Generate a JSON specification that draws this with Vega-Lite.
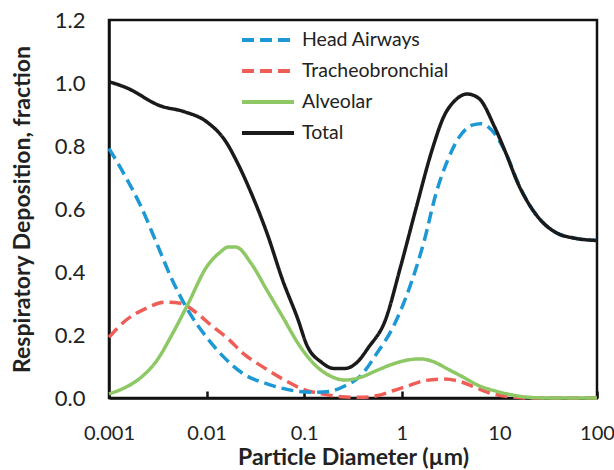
{
  "$schema": "https://vega.github.io/schema/vega-lite/v6.json",
  "width": 488,
  "height": 378,
  "autosize": {"type": "none"},
  "padding": {"left": 109, "top": 20, "right": 17, "bottom": 72},
  "background": "white",
  "config": {
    "font": "Lato",
    "view": {"stroke": "#111", "strokeWidth": 2.5},
    "axis": {"grid": false, "domainColor": "#111", "domainWidth": 2.5, "labelColor": "#222", "titleColor": "#222", "labelFont": "Lato", "titleFont": "Lato"}
  },
  "data": {"values": [
    {"s": "Total", "d": 0.001, "v": 1.004},
    {"s": "Total", "d": 0.00148, "v": 0.986},
    {"s": "Total", "d": 0.00339, "v": 0.927},
    {"s": "Total", "d": 0.00589, "v": 0.909},
    {"s": "Total", "d": 0.01, "v": 0.877},
    {"s": "Total", "d": 0.0158, "v": 0.813},
    {"s": "Total", "d": 0.0209, "v": 0.744},
    {"s": "Total", "d": 0.0288, "v": 0.649},
    {"s": "Total", "d": 0.0417, "v": 0.522},
    {"s": "Total", "d": 0.0603, "v": 0.373},
    {"s": "Total", "d": 0.0871, "v": 0.246},
    {"s": "Total", "d": 0.105, "v": 0.172},
    {"s": "Total", "d": 0.151, "v": 0.113},
    {"s": "Total", "d": 0.2, "v": 0.094},
    {"s": "Total", "d": 0.263, "v": 0.094},
    {"s": "Total", "d": 0.347, "v": 0.113},
    {"s": "Total", "d": 0.457, "v": 0.161},
    {"s": "Total", "d": 0.676, "v": 0.246},
    {"s": "Total", "d": 0.97, "v": 0.416},
    {"s": "Total", "d": 1.41, "v": 0.606},
    {"s": "Total", "d": 2.04, "v": 0.787},
    {"s": "Total", "d": 2.69, "v": 0.893},
    {"s": "Total", "d": 3.55, "v": 0.946},
    {"s": "Total", "d": 4.68, "v": 0.965},
    {"s": "Total", "d": 6.17, "v": 0.951},
    {"s": "Total", "d": 8.91, "v": 0.861},
    {"s": "Total", "d": 11.7, "v": 0.776},
    {"s": "Total", "d": 15.5, "v": 0.681},
    {"s": "Total", "d": 20.4, "v": 0.612},
    {"s": "Total", "d": 27.5, "v": 0.559},
    {"s": "Total", "d": 39.8, "v": 0.522},
    {"s": "Total", "d": 57.5, "v": 0.508},
    {"s": "Total", "d": 100, "v": 0.5},

    {"s": "Head Airways", "d": 0.001, "v": 0.792},
    {"s": "Head Airways", "d": 0.00148, "v": 0.702},
    {"s": "Head Airways", "d": 0.00214, "v": 0.606},
    {"s": "Head Airways", "d": 0.00309, "v": 0.49},
    {"s": "Head Airways", "d": 0.00447, "v": 0.373},
    {"s": "Head Airways", "d": 0.00646, "v": 0.278},
    {"s": "Head Airways", "d": 0.01, "v": 0.193},
    {"s": "Head Airways", "d": 0.0151, "v": 0.129},
    {"s": "Head Airways", "d": 0.024, "v": 0.076},
    {"s": "Head Airways", "d": 0.0417, "v": 0.045},
    {"s": "Head Airways", "d": 0.0724, "v": 0.025},
    {"s": "Head Airways", "d": 0.126, "v": 0.018},
    {"s": "Head Airways", "d": 0.182, "v": 0.021},
    {"s": "Head Airways", "d": 0.263, "v": 0.039},
    {"s": "Head Airways", "d": 0.38, "v": 0.071},
    {"s": "Head Airways", "d": 0.55, "v": 0.14},
    {"s": "Head Airways", "d": 0.813, "v": 0.225},
    {"s": "Head Airways", "d": 1.17, "v": 0.341},
    {"s": "Head Airways", "d": 1.7, "v": 0.5},
    {"s": "Head Airways", "d": 2.24, "v": 0.649},
    {"s": "Head Airways", "d": 2.95, "v": 0.755},
    {"s": "Head Airways", "d": 3.89, "v": 0.829},
    {"s": "Head Airways", "d": 5.25, "v": 0.866},
    {"s": "Head Airways", "d": 6.46, "v": 0.871},
    {"s": "Head Airways", "d": 8.91, "v": 0.84},
    {"s": "Head Airways", "d": 11.7, "v": 0.776},
    {"s": "Head Airways", "d": 15.5, "v": 0.684},
    {"s": "Head Airways", "d": 20.4, "v": 0.612},
    {"s": "Head Airways", "d": 27.5, "v": 0.559},
    {"s": "Head Airways", "d": 39.8, "v": 0.522},
    {"s": "Head Airways", "d": 57.5, "v": 0.508},
    {"s": "Head Airways", "d": 100, "v": 0.5},

    {"s": "Tracheobronchial", "d": 0.001, "v": 0.193},
    {"s": "Tracheobronchial", "d": 0.00148, "v": 0.246},
    {"s": "Tracheobronchial", "d": 0.00234, "v": 0.283},
    {"s": "Tracheobronchial", "d": 0.00372, "v": 0.304},
    {"s": "Tracheobronchial", "d": 0.00537, "v": 0.301},
    {"s": "Tracheobronchial", "d": 0.00776, "v": 0.272},
    {"s": "Tracheobronchial", "d": 0.0112, "v": 0.23},
    {"s": "Tracheobronchial", "d": 0.0166, "v": 0.188},
    {"s": "Tracheobronchial", "d": 0.024, "v": 0.14},
    {"s": "Tracheobronchial", "d": 0.038, "v": 0.098},
    {"s": "Tracheobronchial", "d": 0.0603, "v": 0.06},
    {"s": "Tracheobronchial", "d": 0.0955, "v": 0.029},
    {"s": "Tracheobronchial", "d": 0.151, "v": 0.013},
    {"s": "Tracheobronchial", "d": 0.24, "v": 0.004},
    {"s": "Tracheobronchial", "d": 0.38, "v": 0.002},
    {"s": "Tracheobronchial", "d": 0.55, "v": 0.007},
    {"s": "Tracheobronchial", "d": 0.813, "v": 0.023},
    {"s": "Tracheobronchial", "d": 1.17, "v": 0.039},
    {"s": "Tracheobronchial", "d": 1.7, "v": 0.055},
    {"s": "Tracheobronchial", "d": 2.69, "v": 0.06},
    {"s": "Tracheobronchial", "d": 3.89, "v": 0.053},
    {"s": "Tracheobronchial", "d": 5.62, "v": 0.034},
    {"s": "Tracheobronchial", "d": 8.13, "v": 0.015},
    {"s": "Tracheobronchial", "d": 12.9, "v": 0.004},
    {"s": "Tracheobronchial", "d": 20.4, "v": 0.0},
    {"s": "Tracheobronchial", "d": 100, "v": 0.0},

    {"s": "Alveolar", "d": 0.001, "v": 0.013},
    {"s": "Alveolar", "d": 0.00148, "v": 0.034},
    {"s": "Alveolar", "d": 0.00214, "v": 0.066},
    {"s": "Alveolar", "d": 0.00309, "v": 0.119},
    {"s": "Alveolar", "d": 0.00447, "v": 0.204},
    {"s": "Alveolar", "d": 0.00646, "v": 0.299},
    {"s": "Alveolar", "d": 0.01, "v": 0.416},
    {"s": "Alveolar", "d": 0.0138, "v": 0.463},
    {"s": "Alveolar", "d": 0.0166, "v": 0.479},
    {"s": "Alveolar", "d": 0.02, "v": 0.479},
    {"s": "Alveolar", "d": 0.0288, "v": 0.426},
    {"s": "Alveolar", "d": 0.0417, "v": 0.341},
    {"s": "Alveolar", "d": 0.0603, "v": 0.257},
    {"s": "Alveolar", "d": 0.0871, "v": 0.172},
    {"s": "Alveolar", "d": 0.126, "v": 0.108},
    {"s": "Alveolar", "d": 0.182, "v": 0.071},
    {"s": "Alveolar", "d": 0.263, "v": 0.057},
    {"s": "Alveolar", "d": 0.38, "v": 0.066},
    {"s": "Alveolar", "d": 0.55, "v": 0.087},
    {"s": "Alveolar", "d": 0.813, "v": 0.108},
    {"s": "Alveolar", "d": 1.17, "v": 0.121},
    {"s": "Alveolar", "d": 1.55, "v": 0.124},
    {"s": "Alveolar", "d": 2.04, "v": 0.117},
    {"s": "Alveolar", "d": 2.95, "v": 0.092},
    {"s": "Alveolar", "d": 4.27, "v": 0.066},
    {"s": "Alveolar", "d": 6.17, "v": 0.039},
    {"s": "Alveolar", "d": 8.91, "v": 0.023},
    {"s": "Alveolar", "d": 12.9, "v": 0.011},
    {"s": "Alveolar", "d": 20.4, "v": 0.002},
    {"s": "Alveolar", "d": 32.4, "v": 0.0},
    {"s": "Alveolar", "d": 100, "v": 0.0}
  ]},
  "encoding": {
    "x": {"field": "d", "type": "quantitative",
      "scale": {"type": "log", "domain": [0.001, 100], "nice": false},
      "axis": {"values": [0.001, 0.01, 0.1, 1, 10, 100], "format": "~g", "labelFlush": false, "labelFontSize": 20, "labelPadding": 32, "tickSize": -7, "tickWidth": 2.5, "tickColor": "#111",
        "title": "Particle Diameter (µm)", "titleFontSize": 23, "titleFontWeight": "bold", "titlePadding": 3}},
    "y": {"field": "v", "type": "quantitative",
      "scale": {"domain": [0, 1.2], "nice": false},
      "axis": {"values": [0, 0.2, 0.4, 0.6, 0.8, 1.0, 1.2], "format": ".1f", "labelFontSize": 22, "ticks": false, "labelPadding": 24,
        "title": "Respiratory Deposition, fraction", "titleFontSize": 23, "titleFontWeight": "bold", "titlePadding": 20}},
    "color": {"field": "s", "type": "nominal",
      "scale": {"domain": ["Head Airways", "Tracheobronchial", "Alveolar", "Total"], "range": ["#1c98d4", "#ef5e56", "#8dc865", "#1a1a1a"]},
      "legend": {"orient": "none", "legendX": 148, "legendY": 9, "title": null, "symbolType": "M-3,0H3", "symbolSize": 300, "symbolStrokeWidth": 4, "labelFontSize": 19.5, "labelColor": "#222", "labelOffset": 23, "rowPadding": 10, "labelFont": "Lato"}},
    "strokeDash": {"field": "s", "type": "nominal",
      "scale": {"domain": ["Head Airways", "Tracheobronchial", "Alveolar", "Total"], "range": [[12, 6], [12, 6], [1, 0], [1, 0]]},
      "legend": null}
  },
  "layer": [
    {"transform": [{"filter": "datum.s === 'Tracheobronchial'"}], "mark": {"type": "line", "strokeWidth": 3.5, "interpolate": "monotone"}},
    {"transform": [{"filter": "datum.s === 'Head Airways'"}], "mark": {"type": "line", "strokeWidth": 3.5, "interpolate": "monotone"}},
    {"transform": [{"filter": "datum.s === 'Alveolar'"}], "mark": {"type": "line", "strokeWidth": 3.5, "interpolate": "monotone"}},
    {"transform": [{"filter": "datum.s === 'Total'"}], "mark": {"type": "line", "strokeWidth": 3.5, "interpolate": "monotone"}}
  ]
}
